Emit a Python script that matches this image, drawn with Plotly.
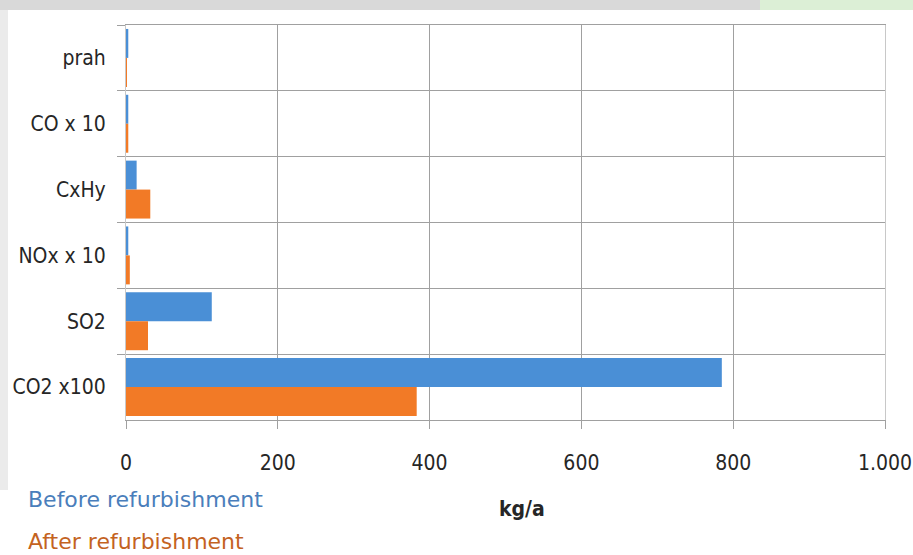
import plotly.graph_objects as go

categories = ["prah", "CO x 10", "CxHy", "NOx x 10", "SO2", "CO2 x100"]
series_names = ["Before refurbishment", "After refurbishment"]
before_values = [3, 3, 14, 3, 113, 785]
after_values = [1, 3, 32, 5, 29, 383]
x_tick_values = [0, 200, 400, 600, 800, 1000]
x_tick_labels = ["0", "200", "400", "600", "800", "1.000"]
x_axis_title = "kg/a"

BLUE = "#4A8FD6"
ORANGE = "#F27A26"
BLUE_TXT = "#4A7EBB"
ORANGE_TXT = "#C4631F"
GRID = "#a0a0a0"
TXT = "#262626"
COND = "DejaVu Sans Condensed, DejaVu Sans, sans-serif"

W, H = 913, 555
L, R, T, B = 126, 28, 25, 135
pw, ph = W - L - R, H - T - B


def px(xp):
    return (xp - L) / pw


def py(yp):
    return (H - B - yp) / ph


fig = go.Figure()
fig.add_trace(go.Bar(y=categories, x=before_values, name=series_names[0],
                     orientation="h", marker=dict(color=BLUE, line=dict(width=0))))
fig.add_trace(go.Bar(y=categories, x=after_values, name=series_names[1],
                     orientation="h", marker=dict(color=ORANGE, line=dict(width=0))))

fig.update_layout(
    width=W, height=H,
    margin=dict(l=L, r=R, t=T, b=B, autoexpand=False),
    paper_bgcolor="white", plot_bgcolor="white",
    barmode="group", bargap=0.12, bargroupgap=0,
    showlegend=False,
    font=dict(family=COND, color=TXT),
)
fig.update_xaxes(
    range=[0, 1000], tickvals=x_tick_values, ticktext=x_tick_labels,
    showgrid=True, gridcolor=GRID, gridwidth=1,
    showline=True, linecolor=GRID, linewidth=1, mirror=True,
    ticks="outside", ticklen=8, tickcolor=GRID,
    ticklabelstandoff=16, ticklabeloverflow="allow", automargin=False,
    tickfont=dict(size=21, color=TXT, family=COND),
    zeroline=False,
)
fig.update_yaxes(
    type="category", categoryorder="array", categoryarray=categories,
    autorange="reversed",
    showgrid=True, gridcolor=GRID, gridwidth=1, tickson="boundaries",
    showline=True, linecolor="#c8c8c8", linewidth=1, mirror=True,
    ticks="outside", ticklen=8, tickcolor=GRID,
    ticklabelstandoff=15, automargin=False,
    tickfont=dict(size=21, color=TXT, family=COND),
)

# x-axis title
fig.add_annotation(text="<b>" + x_axis_title + "</b>", xref="paper", yref="paper",
                   x=px(522), y=py(509), xanchor="center", yanchor="middle",
                   showarrow=False, font=dict(size=21, color=TXT, family=COND))

# legend-style colored labels
for i, (name, col) in enumerate(zip(series_names, [BLUE_TXT, ORANGE_TXT])):
    fig.add_annotation(text=name, xref="paper", yref="paper",
                       x=px(26), y=py(499 + 42 * i), xanchor="left", yanchor="middle",
                       showarrow=False,
                       font=dict(size=22, color=col, family="DejaVu Sans, sans-serif"))

# decorative background frame
fig.add_shape(type="rect", xref="paper", yref="paper", x0=px(0), x1=px(W), y0=py(10), y1=py(0),
              fillcolor="#d9d9d9", line=dict(width=0), layer="below")
fig.add_shape(type="rect", xref="paper", yref="paper", x0=px(760), x1=px(W), y0=py(10), y1=py(0),
              fillcolor="#dcefd6", line=dict(width=0), layer="below")
fig.add_shape(type="rect", xref="paper", yref="paper", x0=px(0), x1=px(8), y0=py(490), y1=py(10),
              fillcolor="#ebebeb", line=dict(width=0), layer="below")

fig.write_html("out.html")
